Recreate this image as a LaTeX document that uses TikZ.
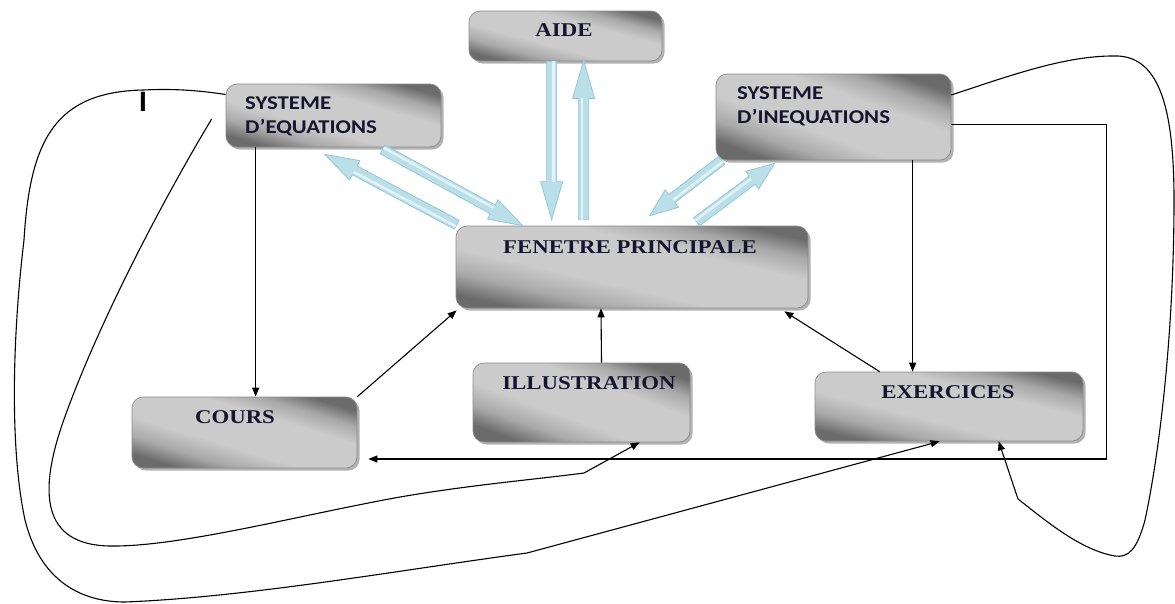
\documentclass[tikz,border=0pt]{standalone}
\usepackage{fontspec}
\setmainfont{Liberation Serif}
\newfontfamily\serifB{Liberation Serif Bold}[FakeStretch=1.17]
\newfontfamily\sansB{Carlito Bold}[FakeStretch=1.17]
\newfontfamily\barfont{Liberation Sans Bold}
\usetikzlibrary{calc,shadows,arrows.meta}

\definecolor{boxdark}{HTML}{6B6B6B}
\definecolor{boxmid}{HTML}{A9A9A9}
\definecolor{boxlight}{HTML}{CBCBCB}
\definecolor{boxedge}{HTML}{8C8C8C}
\definecolor{txt}{HTML}{151530}
\definecolor{arrfill}{HTML}{BADFE9}
\definecolor{arredge}{HTML}{93C8D7}
\definecolor{arrhi}{HTML}{E2F2F7}

\pgfdeclareverticalshading{boxsh}{100bp}{color(0bp)=(boxdark); color(25bp)=(boxdark); color(33bp)=(boxmid); color(42bp)=(boxlight); color(60bp)=(boxlight); color(68bp)=(boxmid); color(75bp)=(boxdark); color(100bp)=(boxdark)}

\newcommand\bluearrow[3]{% from, to, head length
  \coordinate (ba-m) at ($(#2)!#3!(#1)$);
  \filldraw[barrow] ($(#1)!5pt!90:(#2)$) -- ($(ba-m)!5pt!90:(#2)$) -- ($(ba-m)!11pt!90:(#2)$) -- (#2)
     -- ($(ba-m)!11pt!-90:(#2)$) -- ($(ba-m)!5pt!-90:(#2)$) -- ($(#1)!5pt!-90:(#2)$) -- cycle;
  \draw[arrhi, line width=2.5pt] ($(#1)!1.8pt!90:(#2)$) -- ($(ba-m)!1.8pt!90:(#2)$);
}

\begin{document}
\begin{tikzpicture}[x=1pt,y=-1pt,
  box/.style={rounded corners=11pt, draw=boxedge, line width=0.7pt,
     shading=boxsh, shading angle=#1,
     drop shadow={shadow xshift=2.5pt, shadow yshift=-2.5pt, opacity=0.3, fill=black},
     inner sep=0pt},
  lblS/.style={inner sep=0pt, text=txt, font=\serifB\fontsize{19.5}{23.5}\selectfont, anchor=base},
  lblA/.style={inner sep=0pt, text=txt, font=\sansB\fontsize{19.5}{23.5}\selectfont, anchor=base west, align=left},
  conn/.style={line width=1.1pt, -{Triangle[length=9pt,width=7pt]}},
  barrow/.style={fill=arrfill, draw=arredge, line width=0.8pt, line join=miter}
]
\useasboundingbox (0,0) rectangle (1175,603);

% boxes
\node[box=-15, minimum width=193pt, minimum height=50pt] (aide) at (565.5,36) {};
\node[box=-16, minimum width=215pt, minimum height=63pt] (sysEq) at (333.5,115.5) {};
\node[box=-20, minimum width=235pt, minimum height=86pt] (ineq) at (833.5,117) {};
\node[box=-13, minimum width=352pt, minimum height=82pt] (fen) at (632,267) {};
\node[box=-17, minimum width=225pt, minimum height=71pt] (cours) at (244.5,432.5) {};
\node[box=-20, minimum width=217pt, minimum height=79pt] (ill) at (581.5,402.5) {};
\node[box=-14, minimum width=268pt, minimum height=69pt] (exe) at (949,406.5) {};

% labels
\node[lblS] (aideT) at (564,36) {AIDE};
\node[lblS] (fenT) at (630,253) {FENETRE PRINCIPALE};
\node[lblS] (coursT) at (235,423) {COURS};
\node[lblS] (illT) at (589,389) {ILLUSTRATION};
\node[lblS] (exeT) at (948,398) {EXERCICES};
\node[lblA] (sysEqT) at (245,133) {SYSTEME\\D’EQUATIONS};
\node[lblA] (ineqT) at (737,123) {SYSTEME\\D’INEQUATIONS};
\node[inner sep=0pt, anchor=base, font=\barfont\fontsize{28}{28}\selectfont] (mark) at (143,111) {I};

% blue double arrows
\coordinate (a1s) at ($(fen.north west)+(1,-1)$);
\coordinate (a1e) at ($(sysEq.south west)+(99,7)$);
\coordinate (a2s) at ($(sysEq.south west)+(157,2)$);
\coordinate (a2e) at ($(fen.north west)+(67,0)$);
\coordinate (a3s) at ($(aide.south west)+(83,0)$);
\coordinate (a3e) at ($(fen.north west)+(96,-6)$);
\coordinate (a4s) at ($(fen.north west)+(128,-6)$);
\coordinate (a4e) at ($(aide.south west)+(115,-1)$);
\coordinate (a5s) at ($(ineq.south west)+(6,0)$);
\coordinate (a5e) at ($(fen.north west)+(194,-10)$);
\coordinate (a6s) at ($(fen.north west)+(241,-4)$);
\coordinate (a6e) at ($(ineq.south west)+(59,3)$);
\bluearrow{a1s}{a1e}{34pt}
\bluearrow{a2s}{a2e}{34pt}
\bluearrow{a3s}{a3e}{38pt}
\bluearrow{a4s}{a4e}{38pt}
\bluearrow{a5s}{a5e}{28pt}
\bluearrow{a6s}{a6e}{28pt}

% straight connectors
\draw[conn] ($(sysEq.south west)+(30,0)$) -- ($(cours.north west)+(124,0)$);
\draw[conn] (cours.north east) -- ($(fen.south west)+(1,2)$);
\draw[conn] ($(ill.north)+(20,0)$) -- ($(fen.south)+(-31,0)$);
\draw[conn] ($(exe.north west)+(65,0)$) -- ($(fen.south east)+(-24,3)$);
\draw[conn] ($(ineq.south west)+(197,0)$) -- ($(exe.north west)+(98,0)$);
\draw[conn] ($(ineq.east)+(0,7.5)$) -- ++(155,0) |- ($(cours.east)+(11,26.5)$);

% curved connectors
\coordinate (rStart) at ($(ineq.east)+(0,-22)$);
\coordinate (rEnd) at ($(exe.south west)+(184,0)$);
\draw[conn] (rStart) .. controls (1020,72) and (1070,55) .. (1118,56)
   .. controls (1160,58) and (1174,110) .. (1174,200)
   .. controls (1174,330) and (1160,450) .. (1145,520)
   .. controls (1137,550) and (1128,558) .. (1115,556)
   .. controls (1080,550) and (1045,520) .. (1018,499) -- (rEnd);

\coordinate (iStart) at ($(sysEq.west)+(-14,3.5)$);
\coordinate (iEnd) at ($(ill.south west)+(167,0)$);
\draw[conn] (iStart) .. controls (160,205) and (95,330) .. (62,425)
   .. controls (40,490) and (40,545) .. (110,546)
   .. controls (180,547) and (300,515) .. (400,497)
   .. controls (470,485) and (530,480) .. (584,473) -- (iEnd);

\coordinate (oStart) at ($(sysEq.west)+(0,-21)$);
\coordinate (oEnd) at ($(exe.south west)+(125,0)$);
\draw[conn] (oStart) .. controls (190,89) and (165,89) .. (143,90)
   .. controls (55,92) and (30,140) .. (24,240)
   .. controls (12,340) and (10,450) .. (25,520)
   .. controls (40,580) and (80,602) .. (125,602)
   .. controls (250,597) and (400,570) .. (527,553) -- (oEnd);

\end{tikzpicture}
\end{document}
